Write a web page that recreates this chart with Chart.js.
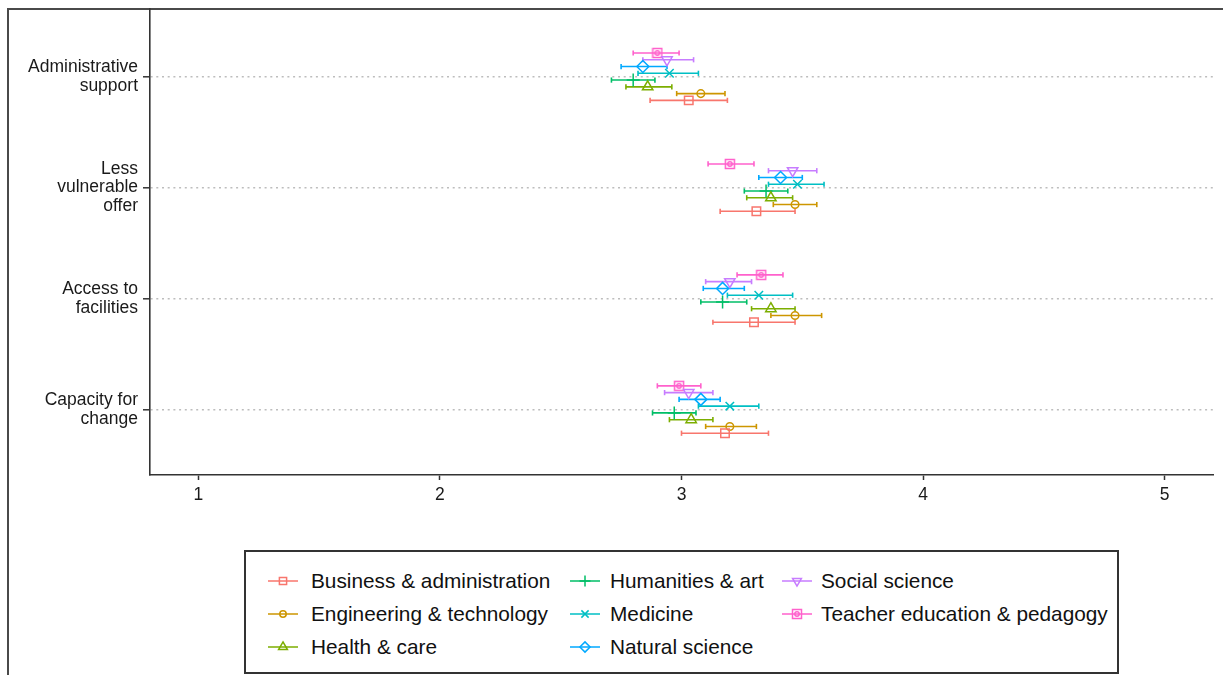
<!DOCTYPE html>
<html>
<head>
<meta charset="utf-8">
<script src="https://cdn.jsdelivr.net/npm/chart.js@4.4.1/dist/chart.umd.min.js"></script>
<style>
  body { margin: 0; background: #fff; overflow: hidden; font-family: "Liberation Sans", Arial, sans-serif; }
  #frame { position: absolute; left: 7px; top: 8px; width: 1230px; height: 680px; border-left: 2px solid #4a4a4a; border-top: 2px solid #4a4a4a; }
  #plot { position: absolute; left: 0; top: 0; }
  #legend { position: absolute; left: 244px; top: 550px; width: 871px; height: 120px; border: 2px solid #333; background: #fff; }
  .key { position: absolute; }
  .label { position: absolute; font-size: 20.8px; color: #111; white-space: nowrap; line-height: 24px; }
</style>
</head>
<body>
<div id="frame"></div>
<canvas id="plot" width="1223" height="520"></canvas>
<div id="legend"></div>
<script>
// categories, top to bottom
const categories = [
  ['Administrative', 'support'],
  ['Less', 'vulnerable', 'offer'],
  ['Access to', 'facilities'],
  ['Capacity for', 'change']
];

const seriesNames = [
  'Business & administration',
  'Engineering & technology',
  'Health & care',
  'Humanities & art',
  'Medicine',
  'Natural science',
  'Social science',
  'Teacher education & pedagogy'
];

// mean per series, one value per category (same order as categories)
const meanValues = [
  [3.03, 3.31, 3.30, 3.18],
  [3.08, 3.47, 3.47, 3.20],
  [2.86, 3.37, 3.37, 3.04],
  [2.80, 3.35, 3.17, 2.97],
  [2.95, 3.48, 3.32, 3.20],
  [2.84, 3.41, 3.17, 3.08],
  [2.94, 3.46, 3.20, 3.03],
  [2.90, 3.20, 3.33, 2.99]
];

// lower end of error bar
const lowerValues = [
  [2.87, 3.16, 3.13, 3.00],
  [2.98, 3.38, 3.37, 3.10],
  [2.77, 3.27, 3.29, 2.95],
  [2.71, 3.26, 3.08, 2.88],
  [2.82, 3.36, 3.19, 3.07],
  [2.75, 3.32, 3.09, 2.99],
  [2.84, 3.36, 3.10, 2.93],
  [2.80, 3.11, 3.23, 2.90]
];

// upper end of error bar
const upperValues = [
  [3.19, 3.47, 3.47, 3.36],
  [3.18, 3.56, 3.58, 3.31],
  [2.96, 3.46, 3.47, 3.13],
  [2.89, 3.44, 3.27, 3.06],
  [3.07, 3.59, 3.46, 3.32],
  [2.94, 3.50, 3.26, 3.16],
  [3.05, 3.56, 3.29, 3.13],
  [2.99, 3.30, 3.42, 3.08]
];

const xTicks = [1, 2, 3, 4, 5];

// ggplot default hues
const seriesColors = ['#F8766D', '#CD9600', '#7CAE00', '#00BE67', '#00BFC4', '#00A9FF', '#C77CFF', '#FF61CC'];

// square with a small circle inside for the last series
function boxedCircle(color) {
  const c = document.createElement('canvas');
  c.width = 12; c.height = 12;
  const g = c.getContext('2d');
  g.strokeStyle = color;
  g.lineWidth = 1.5;
  g.strokeRect(1.5, 1.5, 9, 9);
  g.beginPath();
  g.arc(6, 6, 2.2, 0, Math.PI * 2);
  g.stroke();
  return c;
}

const markerStyles = ['rect', 'circle', 'triangle', 'cross', 'crossRot', 'rectRot', 'triangle', boxedCircle(seriesColors[7])];
const markerSizes = [6, 3.8, 6, 6.5, 6, 6, 6, 6];
const markerRotations = [0, 0, 0, 0, 0, 0, 180, 0];

const dodge = 0.061;
const yFor = (s, c) => (categories.length - c) + (s - 3.5) * dodge;

const datasets = [];
seriesNames.forEach((name, s) => {
  // points
  datasets.push({
    label: name,
    data: meanValues[s].map((v, c) => ({ x: v, y: yFor(s, c) })),
    pointStyle: markerStyles[s],
    pointRadius: markerSizes[s],
    pointRotation: markerRotations[s],
    pointBorderColor: seriesColors[s],
    pointBackgroundColor: 'rgba(0,0,0,0)',
    pointBorderWidth: 1.5,
    showLine: false,
    order: 0
  });
  // one small line dataset per error bar, caps are the end points
  meanValues[s].forEach((v, c) => {
    datasets.push({
      label: name + ' error ' + c,
      data: [
        { x: lowerValues[s][c], y: yFor(s, c) },
        { x: upperValues[s][c], y: yFor(s, c) }
      ],
      showLine: true,
      borderColor: seriesColors[s],
      borderWidth: 1.6,
      pointStyle: 'line',
      pointRotation: 90,
      pointRadius: 2.6,
      pointBorderColor: seriesColors[s],
      pointBorderWidth: 1.6,
      order: 1
    });
  });
});

const axisFont = { family: '"Liberation Sans", Arial, sans-serif', size: 17.5, lineHeight: 1.07 };

new Chart(document.getElementById('plot').getContext('2d'), {
  type: 'scatter',
  data: { datasets: datasets },
  options: {
    responsive: false,
    animation: false,
    layout: { padding: { left: 0, top: 9, right: 10, bottom: 0 } },
    plugins: { legend: { display: false }, tooltip: { enabled: false } },
    scales: {
      x: {
        type: 'linear',
        min: 0.8,
        max: 5.2,
        afterBuildTicks: axis => { axis.ticks = xTicks.map(v => ({ value: v })); },
        afterFit: axis => { axis.height = 45; axis.paddingLeft = 0; axis.paddingRight = 0; },
        ticks: { color: '#1a1a1a', font: axisFont, padding: 6, maxRotation: 0 },
        grid: { drawOnChartArea: false, tickLength: 5, tickColor: '#333', tickWidth: 1.5 },
        border: { display: true, color: '#333', width: 1.6 }
      },
      y: {
        type: 'linear',
        min: 0.41,
        max: 4.61,
        afterBuildTicks: axis => { axis.ticks = categories.map((c, i) => ({ value: categories.length - i })); },
        afterFit: axis => { axis.width = 150; axis.paddingTop = 0; axis.paddingBottom = 0; },
        ticks: {
          color: '#1a1a1a',
          font: axisFont,
          padding: 5,
          callback: v => categories[categories.length - v]
        },
        grid: { color: '#bdbdbd', lineWidth: 1.6, tickLength: 7, tickColor: '#333', tickWidth: 1.5 },
        border: { display: true, color: '#333', width: 1.6, dash: [2, 3.7] }
      }
    }
  }
});

// legend, filled column by column
const legend = document.getElementById('legend');
const keyCenters = [283, 585, 797];
const textStarts = [311, 610, 821];
const rowCenters = [581, 614, 647];
const boxLeft = 246, boxTop = 552;

seriesNames.forEach((name, s) => {
  const col = Math.floor(s / 3), row = s % 3;
  const key = document.createElement('canvas');
  key.width = 40; key.height = 20;
  key.className = 'key';
  key.style.left = (keyCenters[col] - 20 - boxLeft) + 'px';
  key.style.top = (rowCenters[row] - 10 - boxTop) + 'px';
  const g = key.getContext('2d');
  g.strokeStyle = seriesColors[s];
  g.fillStyle = 'rgba(0,0,0,0)';
  g.lineWidth = 1.5;
  g.beginPath();
  g.moveTo(5, 10);
  g.lineTo(35, 10);
  g.stroke();
  Chart.helpers.drawPoint(g, { pointStyle: markerStyles[s], radius: markerSizes[s] * 0.85, rotation: markerRotations[s], borderWidth: 1.4 }, 20, 10);
  legend.appendChild(key);

  const label = document.createElement('div');
  label.className = 'label';
  label.textContent = name;
  label.style.left = (textStarts[col] - boxLeft) + 'px';
  label.style.top = (rowCenters[row] - 12 - boxTop) + 'px';
  legend.appendChild(label);
});
</script>
</body>
</html>
